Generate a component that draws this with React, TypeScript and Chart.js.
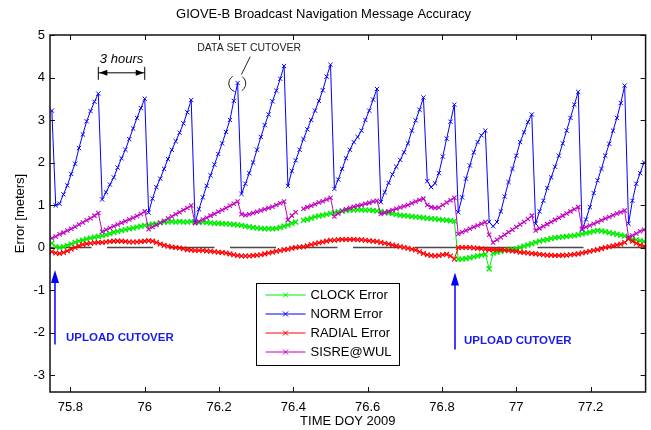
import React, { useEffect, useRef } from "react";
import { Chart, registerables } from "chart.js";

Chart.register(...registerables);

// ---- sampling grid (15-minute samples, day-of-year 2009) ----
const T_START = 75.75;
const T_STEP = 1 / 96;
const X_MIN = 75.745;
const X_MAX = 77.348;
const Y_MIN = -3.4;
const Y_MAX = 5;
const X_TICKS = [75.8, 76, 76.2, 76.4, 76.6, 76.8, 77, 77.2];
const Y_TICKS = [-3, -2, -1, 0, 1, 2, 3, 4, 5];

const TITLE = "GIOVE-B Broadcast Navigation Message Accuracy";
const X_TITLE = "TIME DOY 2009";
const Y_TITLE = "Error [meters]";
const SERIES_LABELS = ["CLOCK Error", "NORM Error", "RADIAL Error", "SISRE@WUL"];

// ---- series values (meters) ----
const NORM = [
  3.22, 0.99, 1.03, 1.25, 1.46, 1.73, 1.97, 2.34, 2.66, 2.97, 3.21, 3.43, 3.62,
  1.13, 1.3, 1.48, 1.65, 1.88, 2.1, 2.3, 2.55, 2.8, 3.05, 3.28, 3.5,
  0.82, 1.15, 1.42, 1.62, 1.85, 2.08, 2.3, 2.5, 2.7, 2.92, 3.18, 3.47,
  0.58, 0.9, 1.18, 1.45, 1.7, 1.95, 2.2, 2.45, 2.72, 3.0, 3.45, 3.87,
  1.26, 1.5, 1.75, 2.0, 2.3, 2.6, 2.88, 3.13, 3.44, 3.69, 3.97, 4.27,
  1.45, 1.8, 2.05, 2.3, 2.55, 2.78, 3.0, 3.22, 3.45, 3.7, 4.02, 4.3,
  1.38, 1.6, 1.85, 2.1, 2.3, 2.48, 2.6, 2.75, 3.0, 3.22, 3.48, 3.73,
  1.07, 1.3, 1.52, 1.72, 1.9, 2.06, 2.24, 2.45, 2.75, 2.99, 3.24, 3.53,
  1.56, 1.42, 1.51, 1.75, 2.14, 2.56, 2.96, 3.36,
  0.83, 1.18, 1.62, 1.93, 2.24, 2.48, 2.64, 2.75,
  0.6, 0.5, 0.6, 0.85, 1.2, 1.54, 1.85, 2.16, 2.48, 2.71, 2.95, 3.13,
  0.56, 0.85, 1.1, 1.4, 1.65, 1.9, 2.16, 2.45, 2.75, 3.05, 3.36, 3.66,
  0.42, 0.66, 0.95, 1.28, 1.58, 1.85, 2.16, 2.44, 2.75, 3.05, 3.4, 3.81,
  0.56, 1.1, 1.5, 1.75, 2.0,
];

const SISRE = [
  0.22, 0.26, 0.31, 0.35, 0.4, 0.44, 0.49, 0.54, 0.59, 0.64, 0.69, 0.75, 0.81,
  0.37, 0.42, 0.46, 0.5, 0.54, 0.58, 0.62, 0.66, 0.7, 0.74, 0.79, 0.85,
  0.43, 0.48, 0.53, 0.58, 0.63, 0.68, 0.73, 0.78, 0.83, 0.88, 0.93, 0.99,
  0.57, 0.61, 0.66, 0.7, 0.75, 0.79, 0.84, 0.88, 0.93, 0.98, 1.03, 1.08,
  0.78, 0.76, 0.78, 0.81, 0.84, 0.87, 0.9, 0.93, 0.96, 1.0, 1.04, 1.08,
  0.65, 0.75, 0.83, null, 0.91, 0.95, 0.98, 1.02, 1.06, 1.09, 1.13, 1.17,
  0.73, 0.8, 0.86, 0.9, 0.93, 0.96, 0.98, 1.0, 1.03, 1.05, 1.08, 1.1,
  0.79, 0.82, 0.85, 0.88, 0.91, 0.94, 0.97, 1.0, 1.04, 1.08, 1.12, 1.15,
  1.0, 0.95, 0.93, 0.94, 1.0, 1.06, 1.11, 1.17,
  0.32, 0.36, 0.4, 0.44, 0.48, 0.52, 0.56, 0.6,
  0.3, 0.12, 0.18, 0.24, 0.3, 0.36, 0.42, 0.48, 0.54, 0.6, 0.67, 0.75,
  0.4, 0.45, 0.5, 0.55, 0.6, 0.65, 0.7, 0.75, 0.8, 0.85, 0.9, 0.95,
  0.44, 0.48, 0.52, 0.56, 0.6, 0.64, 0.68, 0.72, 0.76, 0.8, 0.83, 0.87,
  0.24, 0.28, 0.33, 0.38, 0.42,
];

const CLOCK = [
  0.1, 0.02, 0.0, 0.02, 0.05, 0.08, 0.12, 0.15, 0.17, 0.2, 0.22, 0.24, 0.26,
  0.28, 0.3, 0.33, 0.36, 0.38, 0.4, 0.42, 0.44, 0.46, 0.48, 0.5, 0.52,
  0.53, 0.55, 0.56, 0.58, 0.6, 0.6, 0.61, 0.6, 0.61, 0.6, 0.6, 0.61,
  0.6, 0.59, 0.6, 0.59, 0.58, 0.57, 0.57, 0.56, 0.56, 0.55, 0.54, 0.53,
  0.52, 0.5, 0.49, 0.47, 0.46, 0.45, 0.44, 0.44, 0.44, 0.45, 0.47, 0.5,
  0.53, 0.57, 0.6, null, 0.64, 0.66, 0.69, 0.72, 0.74, 0.76, 0.78, 0.8,
  0.82, 0.84, 0.86, 0.87, 0.88, 0.88, 0.89, 0.89, 0.88, 0.88, 0.87, 0.86,
  0.85, 0.83, 0.81, 0.8, 0.78, 0.76, 0.75, 0.74, 0.73, 0.72, 0.71, 0.7,
  0.69, 0.68, 0.67, 0.66, 0.65, 0.64, 0.63, 0.62,
  -0.28, -0.27, -0.26, -0.24, -0.22, -0.2, -0.18, -0.16,
  -0.5, -0.13, -0.11, -0.09, -0.07, -0.05, -0.04, -0.03, 0.0, 0.03, 0.06, 0.09,
  0.12, 0.15, 0.17, 0.19, 0.21, 0.23, 0.24, 0.25, 0.26, 0.27, 0.28, 0.3,
  0.32, 0.34, 0.36, 0.38, 0.4, 0.39, 0.37, 0.35, 0.33, 0.31, 0.29, 0.27,
  0.23, 0.2, 0.18, 0.16, 0.14,
];

const RADIAL = [
  -0.1, -0.13, -0.14, -0.12, -0.08, -0.04, 0.0, 0.04, 0.07, 0.09, 0.1, 0.11, 0.12,
  0.12, 0.13, 0.14, 0.15, 0.15, 0.15, 0.14, 0.13, 0.13, 0.13, 0.14, 0.15,
  0.16, 0.15, 0.12, 0.08, 0.05, 0.03, 0.01, 0.0, -0.01, -0.03, -0.05, -0.06,
  -0.07, -0.07, -0.07, -0.08, -0.09, -0.1, -0.11, -0.12, -0.13, -0.15, -0.17, -0.19,
  -0.2, -0.2, -0.2, -0.19, -0.18, -0.17, -0.15, -0.13, -0.11, -0.09, -0.07, -0.05,
  -0.04, -0.02, 0.0, 0.01, 0.02, 0.04, 0.07, 0.09, 0.11, 0.13, 0.15, 0.17,
  0.17, 0.18, 0.19, 0.19, 0.19, 0.19, 0.18, 0.18, 0.17, 0.16, 0.15, 0.14,
  0.12, 0.1, 0.08, 0.06, 0.04, 0.02, 0.0, -0.02, -0.04, -0.06, -0.1, -0.14,
  -0.17, -0.19, -0.2, -0.19, -0.17, -0.16, -0.2, -0.27,
  0.0, 0.0, 0.0, 0.0, -0.01, -0.02, -0.03, -0.04,
  -0.05, -0.05, -0.05, -0.05, -0.06, -0.07, -0.08, -0.09, -0.11, -0.12, -0.13, -0.14,
  -0.15, -0.16, -0.17, -0.18, -0.18, -0.19, -0.19, -0.18, -0.18, -0.17, -0.16, -0.15,
  -0.13, -0.11, -0.09, -0.07, -0.05, -0.03, 0.0, 0.02, 0.04, 0.06, 0.08, 0.12,
  0.2, 0.15, 0.1, 0.06, 0.03,
];

// ---- annotations (data coordinates) ----
const UPLOAD_ARROW_T = [75.7584, 76.835];
const UPLOAD_ARROW_TIP = [-0.53, -0.59];
const UPLOAD_ARROW_BASE = [-2.28, -2.4];
const UPLOAD_TEXT_T = [75.788, 76.859];
const UPLOAD_TEXT_Y = [-2.12, -2.19];
const UPLOAD_TEXT = "UPLOAD CUTOVER";
const HOURS_SPAN = [75.875, 76.0];
const HOURS_Y = 4.11;
const HOURS_TEXT = "3 hours";
const HOURS_TEXT_POS = [75.9375, 4.42];
const CUTOVER_TEXT = "DATA SET CUTOVER";
const CUTOVER_TEXT_POS = [76.281, 4.68];
const CUTOVER_LINE = [76.284, 4.49, 76.26, 4.07];
const CUTOVER_CIRCLE = [76.249, 3.86];

const COLORS = ["#00ee00", "#0000ff", "#ff0000", "#c000c0"];
const FONT = "'Liberation Sans', Arial, sans-serif";

const pts = (vals: (number | null)[]) =>
  vals.map((v, i) => ({ x: T_START + i * T_STEP, y: v }));

function drawCross(ctx: CanvasRenderingContext2D, x: number, y: number, r: number) {
  ctx.moveTo(x - r, y - r);
  ctx.lineTo(x + r, y + r);
  ctx.moveTo(x - r, y + r);
  ctx.lineTo(x + r, y - r);
}

function arrowHead(ctx: CanvasRenderingContext2D, x: number, y: number, dx: number, dy: number, len: number, half: number) {
  const px = -dy, py = dx;
  ctx.beginPath();
  ctx.moveTo(x, y);
  ctx.lineTo(x - dx * len + px * half, y - dy * len + py * half);
  ctx.lineTo(x - dx * len - px * half, y - dy * len - py * half);
  ctx.closePath();
  ctx.fill();
}

const decorPlugin = {
  id: "decor",
  afterDraw(chart: any) {
    const { ctx, chartArea: a, scales } = chart;
    const xs = scales.x, ys = scales.y;
    const X = (v: number) => xs.getPixelForValue(v);
    const Y = (v: number) => ys.getPixelForValue(v);
    ctx.save();

    // axes box
    ctx.strokeStyle = "#111";
    ctx.lineWidth = 1.5;
    ctx.strokeRect(a.left, a.top, a.right - a.left, a.bottom - a.top);
    // inward ticks on all four sides
    ctx.lineWidth = 1;
    ctx.beginPath();
    X_TICKS.forEach((v) => {
      const px = Math.round(X(v)) + 0.5;
      ctx.moveTo(px, a.bottom); ctx.lineTo(px, a.bottom - 5);
      ctx.moveTo(px, a.top); ctx.lineTo(px, a.top + 5);
    });
    Y_TICKS.forEach((v) => {
      const py = Math.round(Y(v)) + 0.5;
      ctx.moveTo(a.left, py); ctx.lineTo(a.left + 5, py);
      ctx.moveTo(a.right, py); ctx.lineTo(a.right - 5, py);
    });
    ctx.stroke();

    // upload arrows + labels
    ctx.strokeStyle = "#0000ff";
    ctx.fillStyle = "#0000ff";
    ctx.lineWidth = 1.5;
    UPLOAD_ARROW_T.forEach((t, k) => {
      const x = X(t);
      const yt = Y(UPLOAD_ARROW_TIP[k]);
      const yb = Y(UPLOAD_ARROW_BASE[k]);
      ctx.beginPath();
      ctx.moveTo(x, yb);
      ctx.lineTo(x, yt + 8);
      ctx.stroke();
      arrowHead(ctx, x, yt, 0, -1, 13, 4);
    });
    ctx.fillStyle = "#1a1aee";
    ctx.font = `bold 11.5px ${FONT}`;
    ctx.textAlign = "left";
    ctx.textBaseline = "middle";
    UPLOAD_TEXT_T.forEach((t, k) => ctx.fillText(UPLOAD_TEXT, X(t), Y(UPLOAD_TEXT_Y[k])));

    // 3 hours span
    ctx.strokeStyle = "#000";
    ctx.fillStyle = "#000";
    ctx.lineWidth = 1;
    const hx0 = X(HOURS_SPAN[0]), hx1 = X(HOURS_SPAN[1]), hy = Y(HOURS_Y);
    ctx.beginPath();
    ctx.moveTo(hx0, hy); ctx.lineTo(hx1, hy);
    ctx.moveTo(hx0, hy - 6); ctx.lineTo(hx0, hy + 7);
    ctx.moveTo(hx1, hy - 6); ctx.lineTo(hx1, hy + 7);
    ctx.stroke();
    arrowHead(ctx, hx0 + 1, hy, -1, 0, 8, 3);
    arrowHead(ctx, hx1 - 1, hy, 1, 0, 8, 3);
    ctx.font = `italic 13px ${FONT}`;
    ctx.textAlign = "center";
    ctx.fillText(HOURS_TEXT, X(HOURS_TEXT_POS[0]), Y(HOURS_TEXT_POS[1]));

    // data set cutover
    ctx.font = `10.5px ${FONT}`;
    ctx.fillStyle = "#222";
    ctx.fillText(CUTOVER_TEXT, X(CUTOVER_TEXT_POS[0]), Y(CUTOVER_TEXT_POS[1]));
    ctx.strokeStyle = "#222";
    ctx.beginPath();
    ctx.moveTo(X(CUTOVER_LINE[0]), Y(CUTOVER_LINE[1]));
    ctx.lineTo(X(CUTOVER_LINE[2]), Y(CUTOVER_LINE[3]));
    ctx.stroke();
    const cx = X(CUTOVER_CIRCLE[0]), cy = Y(CUTOVER_CIRCLE[1]);
    ctx.beginPath();
    ctx.arc(cx, cy, 8.5, Math.PI * 0.6, Math.PI * 1.32);
    ctx.stroke();
    ctx.beginPath();
    ctx.arc(cx, cy, 8.5, -Math.PI * 0.3, Math.PI * 0.32);
    ctx.stroke();

    // legend
    const lx = a.left + 206.5, ly = a.top + 248.5, lw = 143, lh = 82;
    ctx.fillStyle = "#fff";
    ctx.fillRect(lx, ly, lw, lh);
    ctx.strokeStyle = "#000";
    ctx.lineWidth = 1;
    ctx.strokeRect(lx, ly, lw, lh);
    ctx.font = `13px ${FONT}`;
    ctx.textAlign = "left";
    ctx.textBaseline = "middle";
    SERIES_LABELS.forEach((lab, k) => {
      const y = ly + 11.5 + k * 19;
      ctx.strokeStyle = COLORS[k];
      ctx.lineWidth = 1;
      ctx.beginPath();
      ctx.moveTo(lx + 9, y); ctx.lineTo(lx + 49, y);
      drawCross(ctx, lx + 29, y, 2.5);
      ctx.stroke();
      ctx.fillStyle = "#000";
      ctx.fillText(lab, lx + 54, y + 0.5);
    });
    ctx.restore();
  },
};

export default function App() {
  const ref = useRef<HTMLCanvasElement | null>(null);

  useEffect(() => {
    document.body.style.margin = "0";
    if (!ref.current) return;
    const mk = (k: number, vals: (number | null)[], order: number, r: number, bw: number) => ({
      label: SERIES_LABELS[k],
      data: pts(vals),
      borderColor: COLORS[k],
      backgroundColor: COLORS[k],
      borderWidth: 1,
      pointStyle: "crossRot",
      pointRadius: r,
      pointBorderWidth: bw,
      pointBorderColor: COLORS[k],
      spanGaps: false,
      tension: 0,
      order,
    });
    const chart = new Chart(ref.current, {
      type: "line",
      data: {
        datasets: [
          mk(0, CLOCK, 4, 3.5, 1.4),
          mk(1, NORM, 3, 3, 1),
          mk(2, RADIAL, 2, 3.3, 1.2),
          mk(3, SISRE, 1, 3, 1.1),
          {
            label: "zero",
            data: [{ x: X_MIN, y: 0 }, { x: X_MAX, y: 0 }],
            borderColor: "#484848",
            borderWidth: 1.7,
            borderDash: [46, 15.5],
            borderDashOffset: 4.5,
            pointRadius: 0,
            order: 5,
          } as any,
        ],
      },
      options: {
        animation: false,
        responsive: false,
        devicePixelRatio: 1,
        events: [],
        layout: { padding: { left: 0, right: 4, top: 0, bottom: 0 } },
        font: { family: FONT, size: 13 } as any,
        plugins: {
          legend: { display: false },
          tooltip: { enabled: false },
          title: {
            display: true,
            text: TITLE,
            color: "#000",
            font: { family: FONT, size: 13, weight: "normal" },
            padding: { top: 6.5, bottom: 12.9 },
          },
        },
        scales: {
          x: {
            type: "linear",
            min: X_MIN,
            max: X_MAX,
            grid: { display: false, drawTicks: false },
            border: { display: false },
            ticks: {
              color: "#000",
              font: { family: FONT, size: 13 },
              padding: 8,
              maxRotation: 0,
              autoSkip: false,
              callback: (v: any) => String(Number(Number(v).toFixed(1))),
            },
            afterBuildTicks: (s: any) => {
              s.ticks = X_TICKS.map((v) => ({ value: v }));
            },
            afterFit: (s: any) => {
              s.height = 38;
            },
            title: {
              display: true,
              text: X_TITLE,
              color: "#000",
              font: { family: FONT, size: 13 },
              padding: { top: 0, bottom: 1.2 },
            },
          },
          y: {
            type: "linear",
            min: Y_MIN,
            max: Y_MAX,
            grid: { display: false, drawTicks: false },
            border: { display: false },
            ticks: {
              color: "#000",
              font: { family: FONT, size: 13 },
              padding: 5,
              autoSkip: false,
              callback: (v: any) => String(Math.round(Number(v))),
            },
            afterBuildTicks: (s: any) => {
              s.ticks = Y_TICKS.map((v) => ({ value: v }));
            },
            afterFit: (s: any) => {
              s.width = 50;
            },
            title: {
              display: true,
              text: Y_TITLE,
              color: "#000",
              font: { family: FONT, size: 13 },
              padding: { top: 12.2, bottom: 0 },
            },
          },
        },
      } as any,
      plugins: [decorPlugin],
    });
    return () => chart.destroy();
  }, []);

  return (
    <div style={{ position: "absolute", left: 0, top: 0, width: 651, height: 430, background: "#fff" }}>
      <canvas ref={ref} width={651} height={430} style={{ display: "block" }} />
    </div>
  );
}
